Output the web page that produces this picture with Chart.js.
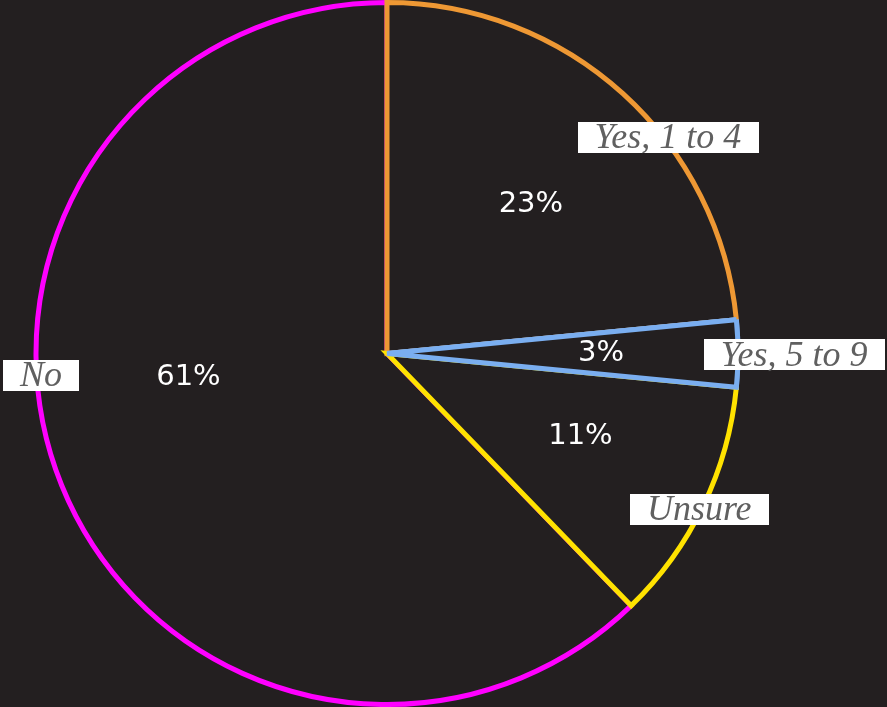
<!DOCTYPE html>
<html>
<head>
<meta charset="utf-8">
<script src="https://cdn.jsdelivr.net/npm/chart.js@4.4.1/dist/chart.umd.min.js"></script>
<style>
  html, body { margin: 0; padding: 0; background: #231f20; overflow: hidden; }
  canvas { display: block; }
</style>
</head>
<body>
<canvas id="c" width="887" height="707"></canvas>
<script>
// Data, in drawing order (clockwise, starting with "No")
const categories = ['No', 'Yes, 1 to 4', 'Yes, 5 to 9', 'Unsure'];
const values = [61, 23, 3, 11];
const percentLabels = ['61%', '23%', '3%', '11%'];

// Styling
const colors = ['#ff00ff', '#ee9834', '#7aaef0', '#ffe200'];
const bg = '#231f20';
const topSliceIndex = 2; // stroke drawn over its neighbours
// Label placement (degrees clockwise from 12 o'clock, fraction of radius)
const nameAngle = [266.4, 52.4, 90.2, 116.5];
const nameRadius = [0.988, 1.01, 1.16, 0.994];
const pctAngle = [263, 44, 90, 113.3];
const pctRadius = [0.57, 0.59, 0.61, 0.60];

const total = values.reduce((a, b) => a + b, 0);
const rotation = (total - values[0]) / total * 360;

const labelPlugin = {
  id: 'customLabels',
  afterDatasetsDraw(chart) {
    const ctx = chart.ctx;
    const meta = chart.getDatasetMeta(0);
    meta.data[topSliceIndex].draw(ctx);
    meta.data.forEach((arc, i) => {
      const p = arc.getProps(['x', 'y', 'outerRadius'], true);
      const R = p.outerRadius;
      // percentage
      let a = (pctAngle[i] - 90) * Math.PI / 180;
      let x = p.x + R * pctRadius[i] * Math.cos(a);
      let y = p.y + R * pctRadius[i] * Math.sin(a);
      ctx.save();
      ctx.font = '29px "DejaVu Sans"';
      ctx.fillStyle = '#ffffff';
      ctx.textAlign = 'center';
      ctx.textBaseline = 'middle';
      ctx.fillText(percentLabels[i], x, y);
      ctx.restore();
      // category name in white box
      a = (nameAngle[i] - 90) * Math.PI / 180;
      x = p.x + R * nameRadius[i] * Math.cos(a);
      y = p.y + R * nameRadius[i] * Math.sin(a);
      ctx.save();
      ctx.font = 'italic 36px "Liberation Serif"';
      const w = ctx.measureText(categories[i]).width + 34;
      const h = 31;
      ctx.fillStyle = '#ffffff';
      ctx.fillRect(Math.round(x - w / 2), Math.round(y - h / 2), Math.round(w), h);
      ctx.fillStyle = '#606060';
      ctx.textAlign = 'center';
      ctx.textBaseline = 'alphabetic';
      ctx.fillText(categories[i], x, y + 11);
      ctx.restore();
    });
  }
};

new Chart(document.getElementById('c'), {
  type: 'pie',
  data: {
    labels: categories,
    datasets: [{
      data: values,
      backgroundColor: bg,
      borderColor: colors,
      borderWidth: 5,
      borderJoinStyle: 'miter'
    }]
  },
  options: {
    responsive: false,
    animation: false,
    rotation: rotation,
    layout: { padding: { left: 0, right: 113, top: 0, bottom: 0 } },
    plugins: {
      legend: { display: false },
      tooltip: { enabled: false }
    }
  },
  plugins: [labelPlugin]
});
</script>
</body>
</html>
